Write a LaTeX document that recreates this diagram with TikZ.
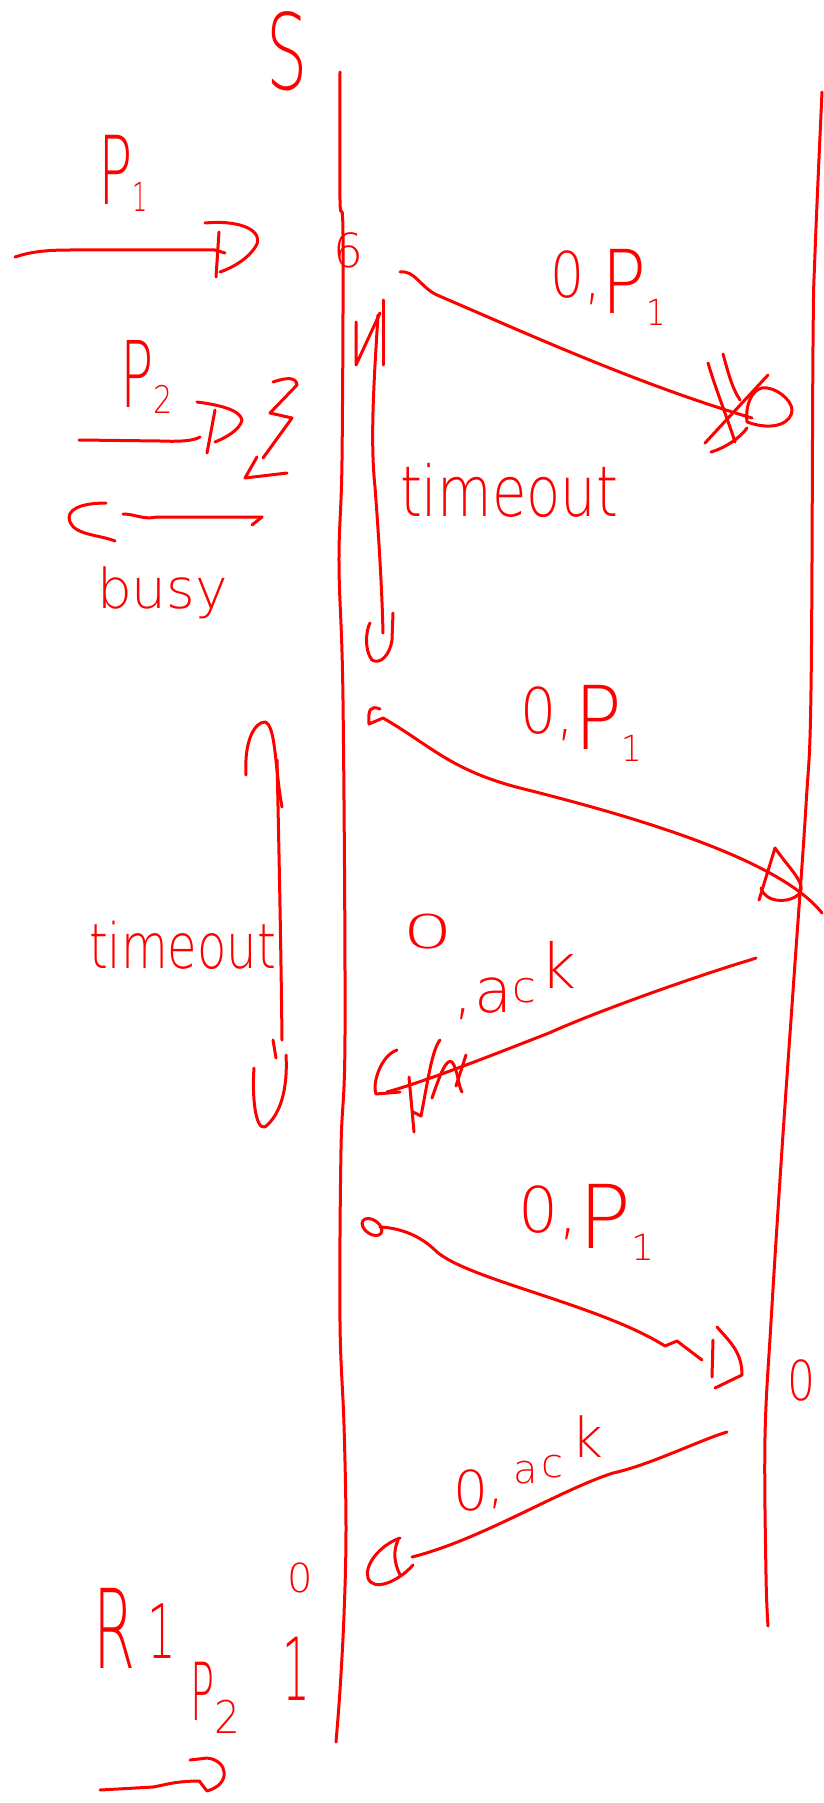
\documentclass[tikz,border=0pt]{standalone}
\usepackage{fontspec}
\usepackage{graphicx}
\IfFontExistsTF{DejaVu Sans ExtraLight}{\setmainfont{DejaVu Sans ExtraLight}}{\setmainfont{DejaVu Sans}}
\definecolor{inkred}{RGB}{255,0,0}
\newcommand{\myfs}[1]{\fontsize{#1}{#1}\selectfont}
\newcommand{\zeroP}{0,\raisebox{-16pt}{\myfs{88}P}\raisebox{-28pt}{\myfs{36}1}}
\begin{document}
\begin{tikzpicture}[x=1pt,y=-1pt,
  ink/.style={draw=inkred,line width=3pt,line cap=round,line join=round},
  lbl/.style={text=inkred,inner sep=0pt,outer sep=0pt}]
\fill[white] (0,0) rectangle (823,1803);
\useasboundingbox (0,0) rectangle (823,1803);

% ---------- lifelines ----------
\draw[ink] plot[smooth,tension=0.6] coordinates {(340,72)(340,200)(343,235)(342,460)(339,563)(343,700)(345,1034)(341,1149)(340,1322)(344,1425)(346,1529)(344,1615)(340,1690)(336,1742)};
\draw[ink] plot[smooth,tension=0.6] coordinates {(822,92)(815,253)(813,345)(811,690)(806,805)(794,977)(782,1149)(771,1322)(765,1437)(766,1575)(768,1626)};

% ---------- labels ----------
\node[lbl,anchor=base,xscale=.62,font=\myfs{105}] (lS) at (287,90) {S};
\node[lbl,anchor=base west,font=\myfs{95}] (lPa) at (98,205) {\scalebox{.6}[1]{P}\raisebox{-7pt}{\scalebox{.6}[1]{\myfs{40}1}}};
\node[lbl,anchor=base west,font=\myfs{92}] (lPb) at (120,407) {\scalebox{.6}[1]{P}\raisebox{-6pt}{\scalebox{.8}[1]{\myfs{38}2}}};
\node[lbl,anchor=base west,font=\myfs{55}] (lbusy) at (97,608) {busy};
\node[lbl,anchor=base west,yscale=1.25,font=\myfs{56}] (lto1) at (400,516) {timeout};
\node[lbl,anchor=base west,yscale=1.3,font=\myfs{48}] (lto2) at (89,968) {timeout};
\node[lbl,anchor=base,font=\myfs{47}] (lsix) at (348,267) {6};
\node[lbl,anchor=base west,xscale=.85,font=\myfs{63}] (lm1) at (550,298) {\zeroP};
\node[lbl,anchor=base west,xscale=.9,font=\myfs{63}] (lm2) at (520,733) {\zeroP};
\node[lbl,anchor=base west,xscale=1.0,font=\myfs{63}] (lm3) at (518,1232) {\zeroP};
\node[lbl,anchor=base west,font=\myfs{62}] (lm4) at (402,1012) {\raisebox{64pt}{\scalebox{1.3}[.75]{0}},\hspace{2pt}a\raisebox{10pt}{\scalebox{.7}{c}}\hspace{4pt}\raisebox{24pt}{k}};
\node[lbl,anchor=base west,font=\myfs{55}] (lm5) at (453,1510) {0\raisebox{8pt}{,}\hspace{8pt}\raisebox{27pt}{\myfs{40}a}\hspace{4pt}\raisebox{33pt}{\myfs{40}c}\hspace{8pt}\raisebox{53pt}{k}};
\node[lbl,anchor=base,xscale=.8,font=\myfs{55}] (lzr) at (801,1400) {0};
\node[lbl,anchor=base,font=\myfs{40}] (lzb) at (300,1592) {0};
\node[lbl,anchor=base,xscale=.5,font=\myfs{87}] (lone) at (296,1700) {1};
\node[lbl,anchor=base west] (lR) at (93,1668) {\scalebox{.55}[1]{\myfs{110}R}\hspace{12pt}\raisebox{10pt}{\scalebox{.6}[1]{\myfs{75}1}}};
\node[lbl,anchor=base west] (lPc) at (190,1720) {\scalebox{.5}[1]{\myfs{80}P}\raisebox{-13pt}{\scalebox{.9}[1]{\myfs{45}2}}};

% ---------- coordinates for connectors ----------
\coordinate (p1a) at (15,257);   \coordinate (p1b) at (225,253);
\coordinate (p2a) at (79,440);   \coordinate (p2b) at (200,437);
\coordinate (bya) at (262,517);  \coordinate (byb) at (123,514);
\coordinate (m1s) at (400,272);  \coordinate (m1e) at (752,418);
\coordinate (m2s) at (383,718);  \coordinate (m2e) at (822,913);
\coordinate (m3s) at (380,1227); \coordinate (m3e) at (702,1360);
\coordinate (m4s) at (756,958);  \coordinate (m4e) at (387,1092);
\coordinate (m5s) at (727,1432); \coordinate (m5e) at (412,1557);
\coordinate (p3a) at (100,1790); \coordinate (p3b) at (200,1781);
\coordinate (toa) at (378,315);  \coordinate (tob) at (383,633);
\coordinate (tla) at (277,760);  \coordinate (tlb) at (282,1040);

% ---------- P1 input arrow ----------
\draw[ink] (p1a) .. controls (30,252) and (45,250) .. (70,250) -- (215,250) -- (p1b);
\draw[ink] (219,232) -- (216,277);
\draw[ink] (205,223) .. controls (235,220) and (262,228) .. (257,244) .. controls (250,258) and (232,268) .. (220,272);

% ---------- P2 input arrow ----------
\draw[ink] (p2a) -- (160,441) .. controls (185,442) and (195,440) .. (p2b);
\draw[ink] (215,410) -- (207,453);
\draw[ink] (197,402) .. controls (220,405) and (240,410) .. (242,420) .. controls (240,430) and (225,438) .. (215,442);

% lightning
\draw[ink] (273,382) .. controls (285,378) and (296,376) .. (297,385) -- (270,413) -- (292,418) -- (263,458);
\draw[ink] (257,457) -- (245,478) -- (287,473);

% ---------- busy arrow ----------
\draw[ink] (bya) -- (252,525);
\draw[ink] (bya) -- (157,517) .. controls (143,520) and (135,514) .. (byb);
\draw[ink] (106,503) .. controls (80,503) and (65,510) .. (70,522) .. controls (75,535) and (100,535) .. (115,541);

% ---------- timeout span (top) ----------
\draw[ink] (356,322) -- (356,365) -- (380,313);
\draw[ink] (383,300) -- (383,365);
\draw[ink] (toa) .. controls (374,380) and (370,440) .. (375,487) .. controls (379,540) and (382,590) .. (tob);
\draw[ink] (393,613) -- (392,640) .. controls (390,655) and (380,665) .. (372,660) .. controls (364,650) and (366,630) .. (370,623);

% ---------- message 1 (lost) ----------
\draw[ink] (m1s) .. controls (415,270) and (420,287) .. (437,295) .. controls (530,335) and (640,385) .. (m1e);
\draw[ink] (708,363) .. controls (716,390) and (728,420) .. (735,442);
\draw[ink] (723,354) .. controls (728,372) and (732,388) .. (740,400);
\draw[ink] (768,375) -- (705,443);
\draw[ink] (711,452) .. controls (725,448) and (740,438) .. (747,428);
\draw[ink] (747,422) .. controls (745,405) and (752,390) .. (762,388) .. controls (775,386) and (792,400) .. (792,410) .. controls (792,422) and (775,432) .. (747,422);

% ---------- message 2 ----------
\draw[ink] (380,709) .. controls (370,705) and (368,710) .. (369,724) -- (m2s);
\draw[ink] (m2s) .. controls (430,745) and (450,770) .. (520,788) .. controls (640,818) and (780,860) .. (m2e);
\draw[ink] (759,900) -- (775,848) .. controls (790,870) and (812,888) .. (795,897) .. controls (785,903) and (765,902) .. (761,888);

% ---------- timeout span (left) ----------
\draw[ink] (246,775) .. controls (244,740) and (255,722) .. (265,722) .. controls (276,725) and (275,770) .. (282,807);
\draw[ink] (tla) .. controls (279,850) and (281,950) .. (tlb);
\draw[ink] (273,1040) -- (276,1058);
\draw[ink] (286,1055) .. controls (288,1090) and (280,1115) .. (265,1127) .. controls (255,1130) and (252,1095) .. (254,1068);

% ---------- message 4 (ack, crossed head) ----------
\draw[ink] (m4s) -- (750,960) .. controls (700,975) and (600,1010) .. (549,1033) .. controls (500,1052) and (430,1080) .. (m4e);
\draw[ink] (397,1050) .. controls (380,1056) and (372,1085) .. (376,1094) -- (400,1092);
\draw[ink] (409,1077) -- (414,1132);
\draw[ink] (413,1112) -- (421,1116) .. controls (428,1080) and (432,1050) .. (440,1040);
\draw[ink] (432,1098) .. controls (440,1075) and (446,1058) .. (452,1062) .. controls (458,1070) and (458,1085) .. (462,1092);
\draw[ink] (456,1086) -- (466,1055);

% ---------- message 3 ----------
\draw[ink,rotate around={-35:(372,1227)}] (372,1227) ellipse (11 and 7);
\draw[ink] (m3s) .. controls (400,1228) and (420,1235) .. (437,1252) .. controls (470,1280) and (600,1305) .. (665,1346) -- (677,1341) -- (m3e);
\draw[ink] (713,1340) -- (712,1377);
\draw[ink] (717,1327) .. controls (730,1342) and (742,1352) .. (742,1375) -- (715,1388);

% ---------- message 5 (ack) ----------
\draw[ink] (m5s) .. controls (700,1440) and (650,1465) .. (613,1473) .. controls (560,1490) and (480,1540) .. (m5e);
\draw[ink] (400,1538) .. controls (380,1545) and (364,1565) .. (368,1578) .. controls (373,1592) and (398,1582) .. (413,1565);
\draw[ink] (398,1540) .. controls (393,1552) and (394,1562) .. (400,1575);

% ---------- output arrow ----------
\draw[ink] (p3a) -- (153,1787) .. controls (165,1785) and (175,1781) .. (p3b);
\draw[ink] (190,1760) -- (207,1758) .. controls (228,1760) and (232,1784) .. (207,1791) -- (200,1782);
\end{tikzpicture}
\end{document}
